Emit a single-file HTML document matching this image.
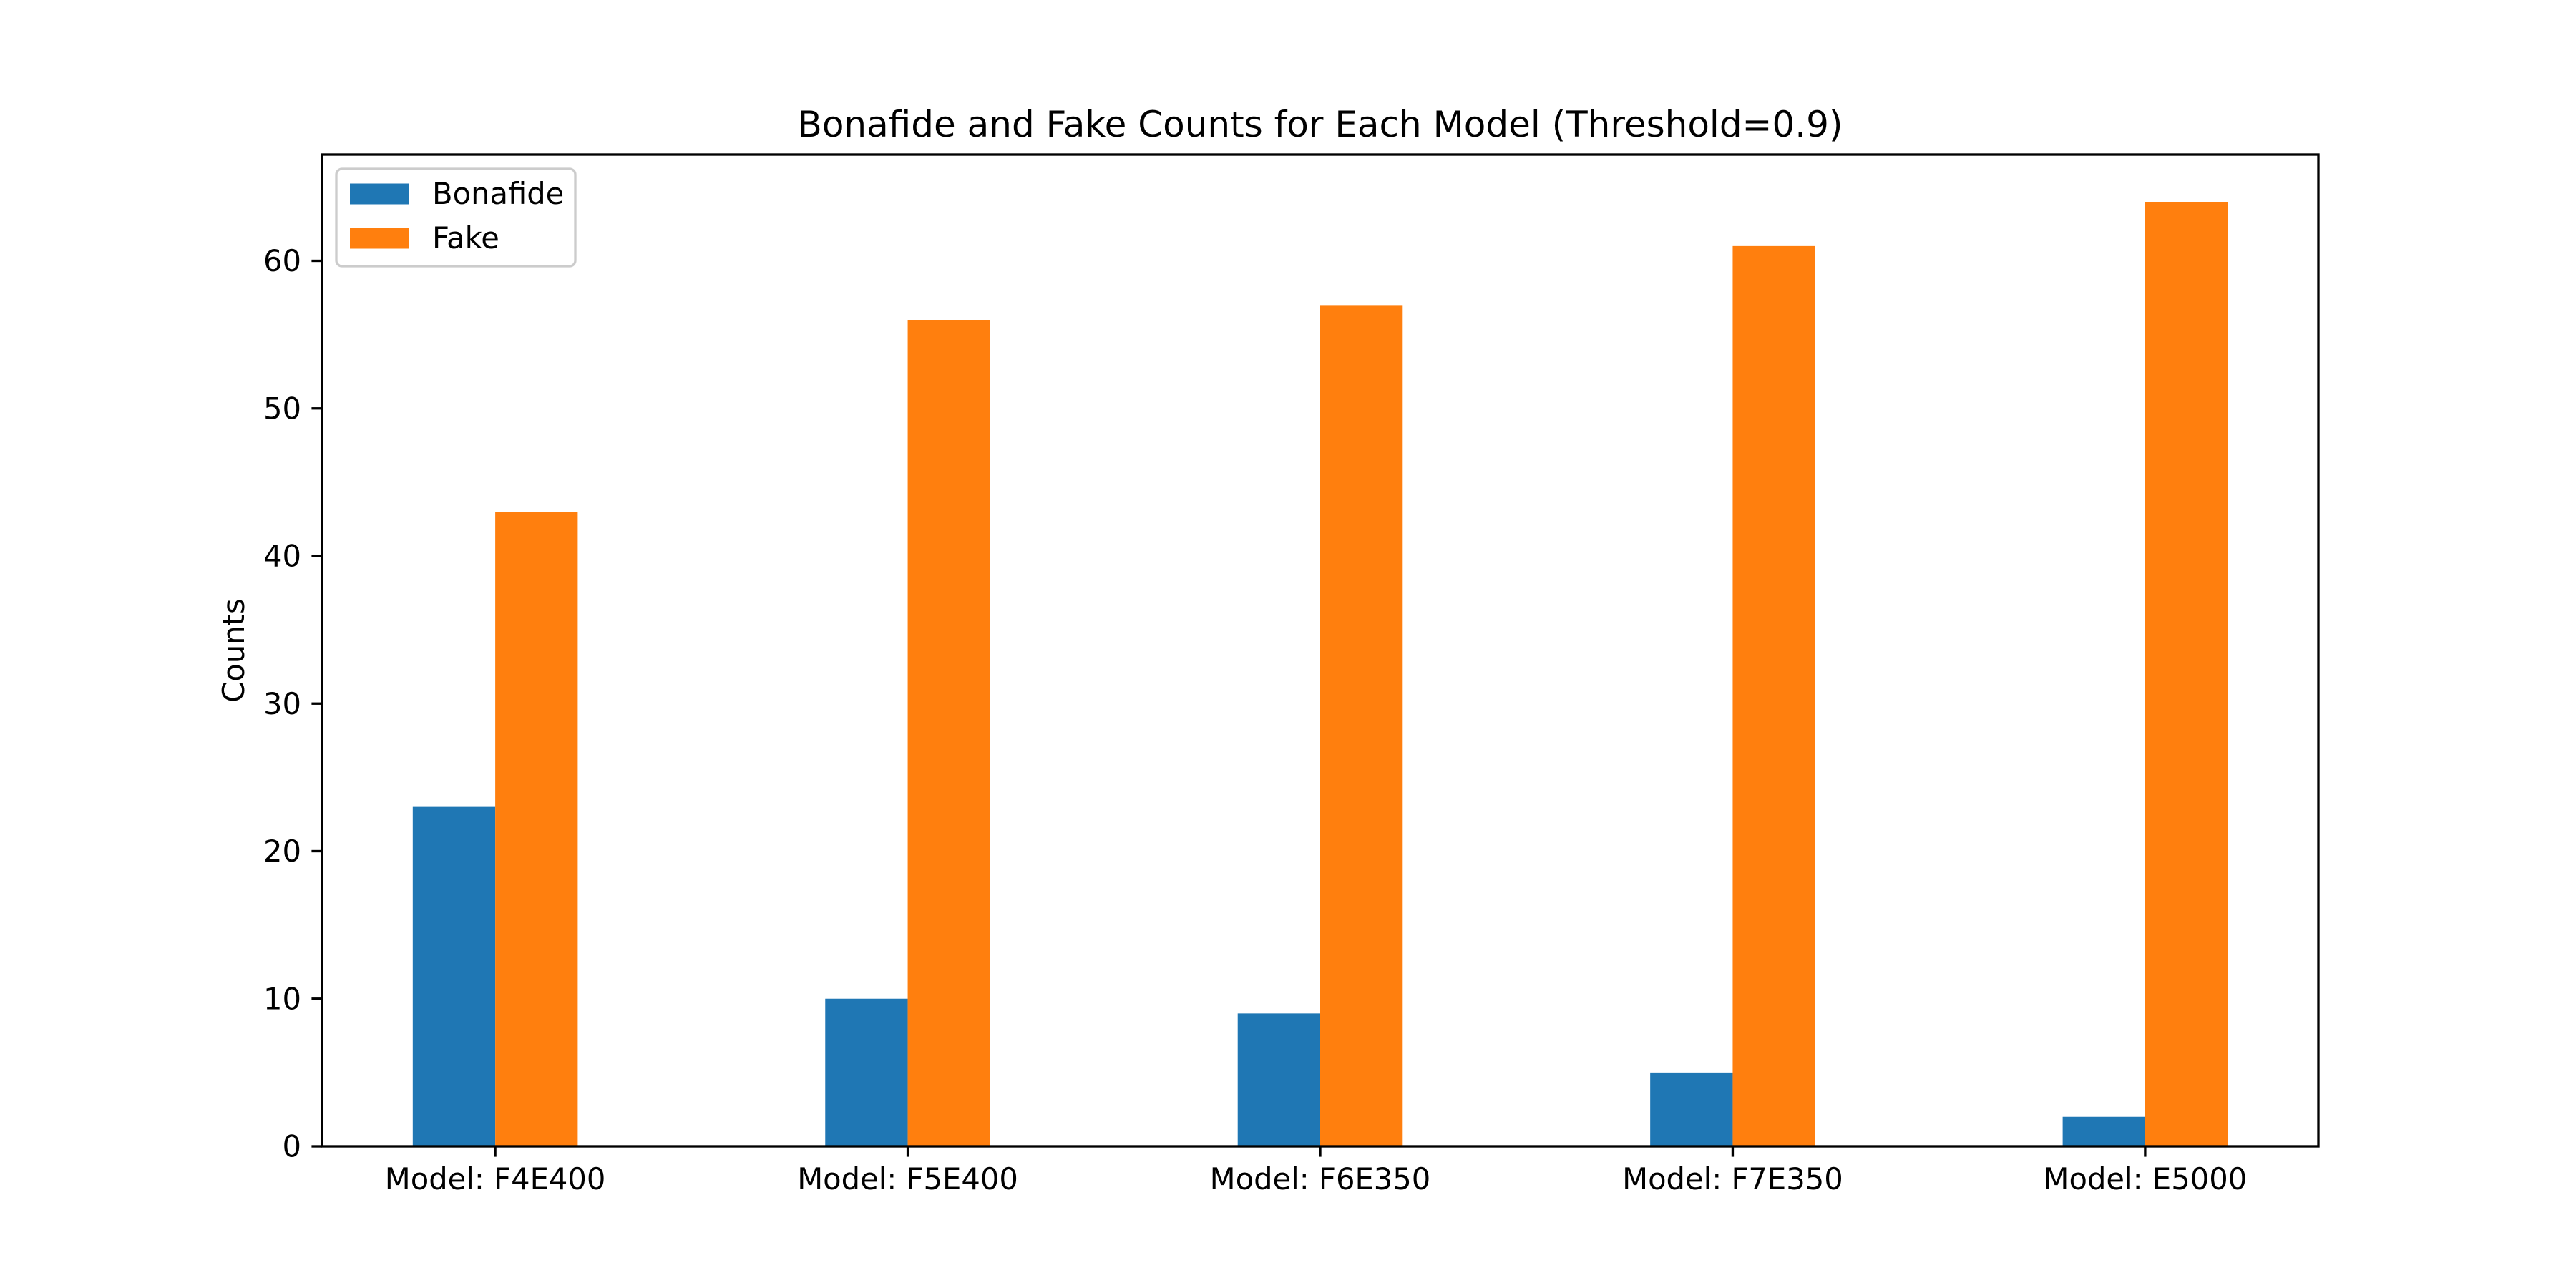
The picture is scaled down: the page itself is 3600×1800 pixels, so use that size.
<!DOCTYPE html>
<html><head><meta charset="utf-8"><style>body{margin:0;background:#fff}svg{display:block}text{font-family:"DejaVu Sans","Liberation Sans",sans-serif;fill:#000}</style></head>
<body>
<svg id="chart" width="3600" height="1800" viewBox="0 0 3600 1800" xmlns="http://www.w3.org/2000/svg">
<rect width="3600" height="1800" fill="#fff"/>
<g id="bars"></g>
<g id="axes"></g>
</svg>
<script>
const categories = ["Model: F4E400","Model: F5E400","Model: F6E350","Model: F7E350","Model: E5000"];
const bonafide = [23,10,9,5,2];
const fake = [43,56,57,61,64];
const yTicks = [0,10,20,30,40,50,60];
const seriesNames = ["Bonafide","Fake"];

const L=450,R=3240,T=216,B=1602;
const xmin=-0.42,xmax=categories.length-1+0.42;
const ymax=Math.max(...fake,...bonafide)*1.05;
const X=v=>L+(v-xmin)/(xmax-xmin)*(R-L);
const Y=v=>B-v/ymax*(B-T);
const NS="http://www.w3.org/2000/svg";
function mk(tag,attrs,parent,txt){const e=document.createElementNS(NS,tag);for(const k in attrs)e.setAttribute(k,attrs[k]);if(txt!==undefined)e.textContent=txt;parent.appendChild(e);return e;}
const bars=document.getElementById('bars'),axes=document.getElementById('axes');
const colors=["#1f77b4","#ff7f0e"];
[bonafide,fake].forEach((s,si)=>{s.forEach((v,i)=>{
  const x0=X(i-0.2+si*0.2),x1=X(i+si*0.2);
  const r=mk('rect',{x:x0,y:Y(v),width:x1-x0,height:B-Y(v),fill:colors[si]},bars);
  
  
});});
const frame=mk('rect',{x:L,y:T,width:R-L,height:B-T,fill:'none',stroke:'#000','stroke-width':3.33},axes);


yTicks.forEach(t=>{
  const y=Y(t);
  mk('line',{x1:L,x2:L-14.6,y1:y,y2:y,stroke:'#000','stroke-width':3.33},axes);
  const tx=mk('text',{x:L-29,y:y+14.5,'font-size':41.67,'text-anchor':'end'},axes,String(t));
  
  
});
categories.forEach((c,i)=>{
  const x=X(i);
  mk('line',{x1:x,x2:x,y1:B,y2:B+14.6,stroke:'#000','stroke-width':3.33},axes);
  const tx=mk('text',{x:x,y:B+60,'font-size':41.67,'text-anchor':'middle'},axes,c);
  
  
});
const yl=mk('text',{x:0,y:0,'font-size':41.67,'text-anchor':'middle',transform:`translate(341,${(T+B)/2}) rotate(-90)`},axes,'Counts');


const ti=mk('text',{x:(L+R)/2,y:191,'font-size':50,'text-anchor':'middle'},axes,'Bonafide and Fake Counts for Each Model (Threshold=0.9)');


const lg=mk('g',{},axes);


mk('rect',{x:470,y:236,width:334,height:136,rx:8,fill:'#fff',stroke:'#ccc','stroke-width':3.33,'fill-opacity':0.8},lg);
seriesNames.forEach((n,i)=>{
  const cy=271+i*62;
  mk('rect',{x:489,y:cy-14.5,width:83,height:29,fill:colors[i]},lg);
  const t=mk('text',{x:604,y:cy+14,'font-size':41.67},lg,n);
  
  
});
</script>
</body></html>
